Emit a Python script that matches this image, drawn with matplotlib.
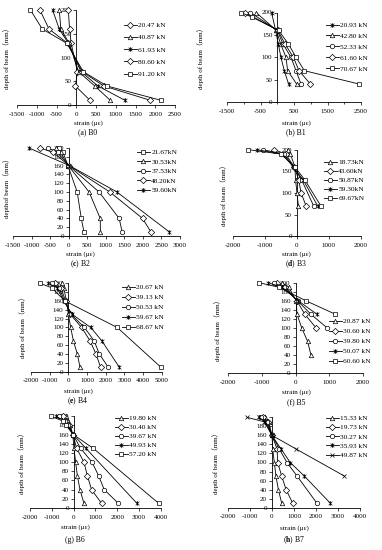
import numpy as np
import matplotlib
matplotlib.use('Agg')
import matplotlib.pyplot as plt
from matplotlib.path import Path

plt.rcParams['font.family'] = ['Liberation Serif', 'Noto Sans CJK SC']
plt.rcParams['mathtext.fontset'] = 'custom'
plt.rcParams['mathtext.rm'] = 'Liberation Serif'
plt.rcParams['mathtext.bf'] = 'Liberation Serif:bold'
plt.rcParams['axes.unicode_minus'] = False

nan = np.nan

# ---------------- data ----------------
b0_depth = [200, 160, 130, 70, 40, 10]
b0_loads = ['20.47 kN', '40.87 kN', '61.93 kN', '80.60 kN', '91.20 kN']
b0_strain = [
    [-200, -170, -130, 30, -20, 345],
    [-430, -390, -180, 60, 470, 860],
    [-600, -430, -200, 120, 550, 1230],
    [-920, -690, -220, 150, 700, 1870],
    [-1160, -860, -240, 180, 780, 2140],
]

b1_depth = [200, 190, 160, 130, 100, 70, 40]
b1_loads = ['20.93 kN', '42.80 kN', '52.33 kN', '61.60 kN', '70.67 kN']
b1_strain = [
    [-170, nan, -50, 30, 110, 210, 340],
    [-630, nan, -30, 100, 260, 310, 580],
    [-800, nan, 0, 170, 410, 560, 710],
    [-955, nan, 20, 230, 480, 650, 990],
    [-1090, -760, 40, 330, 560, 810, 2450],
]

b2_depth = [200, 190, 160, 100, 40, 10]
b2_loads = ['21.67kN', '30.53kN', '37.53kN', '48.20kN', '59.60kN']
b2_strain = [
    [-250, -150, -20, 230, 340, 410],
    [-350, -220, -10, 550, 850, 855],
    [-550, -300, 0, 820, 1360, 1440],
    [-765, -420, 10, 1110, 1990, 2210],
    [-1070, nan, 20, 1300, nan, 2700],
]

b3_depth = [200, 190, 160, 130, 100, 70]
b3_loads = ['18.73kN', '43.60kN', '50.87kN', '59.30kN', '69.67kN']
b3_strain = [
    [-290, -200, -60, -40, 5, 47],
    [-700, -350, -80, 60, 130, 290],
    [-1065, -400, -100, 150, nan, 525],
    [-1250, -450, -110, 200, nan, 650],
    [-1510, -500, -60, 250, nan, 750],
]

b4_depth = [200, 190, 160, 130, 100, 70, 40, 10]
b4_loads = ['20.67 kN', '39.13 kN', '50.53 kN', '59.67 kN', '68.67 kN']
b4_strain = [
    [-360, -250, -100, 0, 125, 270, 480, 625],
    [-700, -400, -150, 100, 710, 1160, 1480, 1730],
    [-900, -500, -200, 150, 860, 1380, 1660, 2140],
    [-1070, -600, -250, 200, 1200, 1790, nan, 2730],
    [-1520, -900, -180, nan, 2620, nan, nan, 4960],
]

b5_depth = [200, 190, 160, 130, 100, 70, 40]
b5_loads = ['20.87 kN', '30.60 kN', '39.80 kN', '50.07 kN', '60.60 kN']
b5_strain = [
    [-400, -200, 20, 45, 185, 360, 460],
    [-550, -300, 40, 280, 610, nan, nan],
    [-650, -350, 60, 460, 940, nan, nan],
    [-810, -400, 80, 640, nan, nan, nan],
    [-1080, -500, 310, 1190, nan, nan, nan],
]

b6_depth = [200, 190, 180, 160, 130, 100, 70, 40, 10]
b6_loads = ['19.80 kN', '30.40 kN', '39.67 kN', '49.93 kN', '57.20 kN']
b6_strain = [
    [-350, -250, -150, -40, 15, 90, 170, 290, 470],
    [-500, -350, -200, -40, 140, 470, 630, 820, 1280],
    [-650, -400, -250, -30, 320, 840, 1145, 1400, 2050],
    [-800, -450, -300, -20, 565, nan, nan, nan, 2900],
    [-1040, -500, -350, -10, 900, nan, nan, nan, 3900],
]

b7_depth = [200, 190, 160, 130, 100, 70, 40, 10]
b7_loads = ['15.33 kN', '19.73 kN', '30.27 kN', '35.93 kN', '49.87 kN']
b7_strain = [
    [-300, -150, 0, 30, 105, 180, 290, 440],
    [-400, -200, 0, 230, 260, 440, 640, 940],
    [-500, -250, 0, 330, 680, 1140, nan, 2040],
    [-600, -300, 0, 410, 830, 1470, nan, 2650],
    [-1140, -350, 0, 1090, nan, 3290, nan, nan],
]

captions = ['(a) B0', '(b) B1', r'($\mathbf{c}$) B2', r'($\mathbf{d}$) B3',
            r'($\mathbf{e}$) B4', '(f) B5', '(g) B6', r'($\mathbf{h}$) B7']
ylabels = ['depth of beam（mm）', 'depth of beam（mm）', 'depthof beam（mm）',
           'depth of beam（mm）', 'depth of beam（mm）', 'depth of beam（mm）',
           'depth of beam（mm）', 'depth of beam（mm）']

# ---------------- styles / layout ----------------
W, H = 382, 550
fig = plt.figure(figsize=(W / 100, H / 100), dpi=100)

star = Path([(-1, -1), (1, 1), (-1, 1), (1, -1), (0, -1.3), (0, 1.3)],
            [Path.MOVETO, Path.LINETO, Path.MOVETO, Path.LINETO, Path.MOVETO, Path.LINETO])

mk_b0 = ['D', '^', star, 'D', 's']
mk_b1 = [star, '^', 'o', 'D', 's']
mk_b2 = ['s', '^', 'o', 'D', star]
mk_std = ['^', 'D', 'o', star, 's']
mk_b7 = ['^', 'D', 'o', star, 'x']

panels = [
    dict(depth=b0_depth, loads=b0_loads, strain=b0_strain, mk=mk_b0,
         box=(17, 175, 105, 10), xlim=(-1500, 2500), xt=np.arange(-1500, 2501, 500), yt=np.arange(0, 201, 50),
         minor=None, leg=(124, 25, 12.2), yl=(7, 57), xl=(88, 123.5, 132.5)),
    dict(depth=b1_depth, loads=b1_loads, strain=b1_strain, mk=mk_b1,
         box=(227, 361, 102, 12.5), xlim=(-1500, 2500), xt=np.arange(-1500, 2501, 1000), yt=np.arange(0, 201, 50),
         minor=np.arange(-1000, 2001, 1000), leg=(326, 25, 10.8), yl=(201, 57), xl=(296, 123.5, 132.5)),
    dict(depth=b2_depth, loads=b2_loads, strain=b2_strain, mk=mk_b2,
         box=(13, 180, 236, 148), xlim=(-1500, 3000), xt=np.arange(-1500, 3001, 500), yt=np.arange(0, 201, 20),
         minor=None, leg=(137, 152, 9.5), yl=(7, 187), xl=(80, 254, 264)),
    dict(depth=b3_depth, loads=b3_loads, strain=b3_strain, mk=mk_std,
         box=(232.7, 361, 236.3, 149.7), xlim=(-2000, 2000), xt=np.arange(-2000, 2001, 1000), yt=np.arange(0, 201, 50),
         minor=None, leg=(324, 162, 9.0), yl=(224, 194), xl=(296, 254, 264)),
    dict(depth=b4_depth, loads=b4_loads, strain=b4_strain, mk=mk_std,
         box=(31, 161.7, 371.7, 283.3), xlim=(-2000, 5000), xt=np.arange(-2000, 5001, 1000), yt=np.arange(0, 201, 20),
         minor=None, leg=(122, 287, 10.0), yl=(23, 326), xl=(78, 391, 401)),
    dict(depth=b5_depth, loads=b5_loads, strain=b5_strain, mk=mk_std,
         box=(228.3, 362.7, 373, 282.7), xlim=(-2000, 2000), xt=np.arange(-2000, 2001, 1000), yt=np.arange(0, 201, 20),
         minor=None, leg=(329, 321, 10.0), yl=(218, 329), xl=(296, 392, 402)),
    dict(depth=b6_depth, loads=b6_loads, strain=b6_strain, mk=mk_std,
         box=(30, 161, 508, 416.3), xlim=(-2000, 4000), xt=np.arange(-2000, 4001, 1000), yt=np.arange(0, 201, 20),
         minor=None, leg=(115, 418, 9.0), yl=(22, 462), xl=(75, 527.5, 540)),
    dict(depth=b7_depth, loads=b7_loads, strain=b7_strain, mk=mk_b7,
         box=(228, 360, 507.7, 417.3), xlim=(-2000, 4000), xt=np.arange(-2000, 4001, 1000), yt=np.arange(0, 201, 20),
         minor=None, leg=(326, 418, 9.25), yl=(216, 462), xl=(294, 528, 540)),
]

TICK_FS = 5.0
LEG_FS = 5.3
LAB_FS = 5.0
CAP_FS = 5.5
fs_px = LEG_FS / 72 * 100
row_h = 6.1

for i, p in enumerate(panels):
    L, R, B, T = p['box']
    ax = fig.add_axes([L / W, 1 - B / H, (R - L) / W, (B - T) / H])
    ax.set_facecolor('none')
    d = np.array(p['depth'], float)
    for lab, vals, mk in zip(p['loads'], p['strain'], p['mk']):
        v = np.array(vals, float)
        m = ~np.isnan(v)
        ms = 3.2 if mk is not star else 3.4
        ax.plot(v[m], d[m], color='black', lw=0.6, marker=mk, ms=ms,
                mfc='white', mec='black', mew=0.5, label=lab, clip_on=False, zorder=3)
    ax.set_xlim(*p['xlim'])
    ax.set_ylim(0, 200)
    ax.set_xticks(p['xt'])
    ax.set_yticks(p['yt'])
    if p['minor'] is not None:
        ax.set_xticks(p['minor'], minor=True)
        ax.tick_params(axis='x', which='minor', direction='out', length=1.5, width=0.5)
    ax.spines['left'].set_position(('data', 0))
    ax.spines['bottom'].set_position(('data', 0))
    ax.spines['top'].set_visible(False)
    ax.spines['right'].set_visible(False)
    for s in ('left', 'bottom'):
        ax.spines[s].set_linewidth(0.6)
    ax.tick_params(which='major', direction='out', length=2, width=0.5, labelsize=TICK_FS)
    ax.tick_params(axis='x', which='major', pad=2.8)
    ax.tick_params(axis='y', which='major', pad=1.5)
    lx, ly, sp = p['leg']
    ls = (sp - row_h) / fs_px
    ax.legend(loc='upper left', bbox_to_anchor=(lx / W, 1 - (ly - row_h / 2) / H),
              bbox_transform=fig.transFigure, frameon=False, fontsize=LEG_FS,
              handlelength=1.7, handletextpad=0.25, labelspacing=max(ls, 0.05),
              borderpad=0, borderaxespad=0)
    yx, yy = p['yl']
    fig.text(yx / W, 1 - yy / H, ylabels[i], rotation=90, ha='center', va='center', fontsize=LAB_FS)
    cx, xy, cy = p['xl']
    fig.text(cx / W, 1 - xy / H, 'strain (με)', ha='center', va='center', fontsize=LAB_FS)
    fig.text(cx / W, 1 - cy / H, captions[i], ha='center', va='center', fontsize=CAP_FS)

fig.savefig('out.png', dpi=100)
